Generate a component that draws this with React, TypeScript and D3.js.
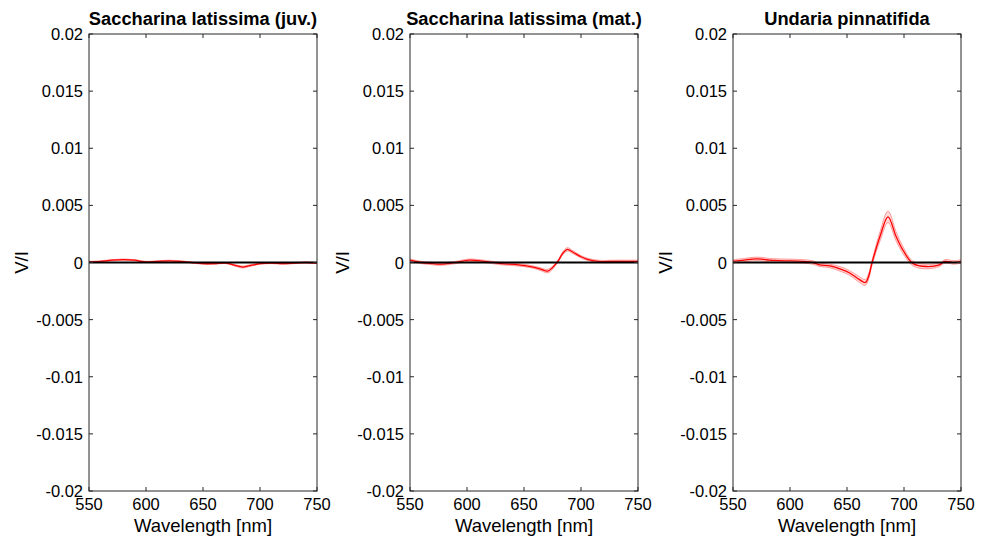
import React from "react";
import * as d3 from "d3";

const titles = ["Saccharina latissima (juv.)", "Saccharina latissima (mat.)", "Undaria pinnatifida"];
const xTicks = [550, 600, 650, 700, 750];
const yTicks = [0.02, 0.015, 0.01, 0.005, 0, -0.005, -0.01, -0.015, -0.02];
const yTickLabels = ["0.02", "0.015", "0.01", "0.005", "0", "-0.005", "-0.01", "-0.015", "-0.02"];

const juvNm = [550, 560, 570, 580, 590, 600, 610, 620, 630, 640, 650, 660, 670, 680, 685, 690, 700, 710, 720, 730, 740, 750];
const juvMean = [0.00005, 0.0001, 0.0002, 0.00025, 0.0002, 0.00005, 0.0001, 0.00015, 0.0001, 0.0, -0.0001, -0.0001, -0.00005, -0.0003, -0.0004, -0.0003, -0.0001, -0.00005, -0.0001, -0.00005, 0, -0.00005];
const juvErr = [0.00005, 0.00005, 0.00005, 0.00005, 0.00005, 0.00005, 0.00005, 0.00005, 0.00005, 0.00005, 0.00005, 0.00005, 0.00005, 0.00007, 0.00008, 0.00007, 0.00005, 0.00005, 0.00005, 0.00005, 0.00005, 0.00005];

const matNm = [550, 560, 570, 576, 590, 602, 615, 630, 645, 658, 665, 671, 679, 684, 688, 693, 700, 705, 715, 730, 740, 750];
const matMean = [0.0002, 0.0, -0.0001, -0.00015, 0.0, 0.0002, 0.0001, -0.0001, -0.0002, -0.0004, -0.0006, -0.00075, 0.0, 0.0008, 0.00115, 0.0009, 0.0005, 0.0003, 0.0001, 0.0001, 0.0001, 0.0001];
const matErr = [0.0001, 0.0001, 0.0001, 0.0001, 0.0001, 0.0001, 0.0001, 0.0001, 0.0001, 0.0001, 0.00012, 0.00015, 0.0001, 0.00012, 0.00015, 0.00012, 0.0001, 0.0001, 0.0001, 0.0001, 0.0001, 0.0001];

const undNm = [550, 560, 567, 575, 582, 595, 611, 620, 626, 635, 645, 652, 661, 666, 669, 672, 679, 686, 693, 699, 708, 720, 731, 736, 744, 750];
const undMean = [0.0001, 0.0002, 0.0003, 0.0003, 0.0002, 0.00015, 0.0001, 0.0, -0.0002, -0.0003, -0.0006, -0.0009, -0.0015, -0.00175, -0.0012, 0.0, 0.0023, 0.004, 0.0023, 0.0011, -0.0001, -0.00035, -0.0002, 0.0001, 0.0, 0.0001];
const undErr = [0.00015, 0.00015, 0.00015, 0.00015, 0.00015, 0.00015, 0.00015, 0.00015, 0.00015, 0.00015, 0.0002, 0.0002, 0.00025, 0.00025, 0.00025, 0.0002, 0.0004, 0.0005, 0.0004, 0.0003, 0.0002, 0.0002, 0.00015, 0.00015, 0.00015, 0.00015];

const series = [
  { nm: juvNm, mean: juvMean, err: juvErr },
  { nm: matNm, mean: matMean, err: matErr },
  { nm: undNm, mean: undMean, err: undErr },
];

const panelLefts = [89, 410, 733];
const panelW = 228;
const top = 34;
const bottom = 491;
const font = "Arial, 'Liberation Sans', Helvetica, sans-serif";
const axisColor = "#262626";

function Panel({ idx }: { idx: number }) {
  const left = panelLefts[idx];
  const x = d3.scaleLinear().domain([550, 750]).range([left, left + panelW]);
  const y = d3.scaleLinear().domain([-0.02, 0.02]).range([bottom, top]);
  const s = series[idx];
  const pts = s.nm.map((n, i) => ({ n, m: s.mean[i], e: s.err[i] }));
  const curve = d3.curveCatmullRom.alpha(0.5);
  const mean = d3.line<any>().x(d => x(d.n)).y(d => y(d.m)).curve(curve)(pts) || "";
  const up = d3.line<any>().x(d => x(d.n)).y(d => y(d.m + d.e)).curve(curve)(pts) || "";
  const lo = d3.line<any>().x(d => x(d.n)).y(d => y(d.m - d.e)).curve(curve)(pts) || "";
  const area = d3.area<any>().x(d => x(d.n)).y0(d => y(d.m - d.e)).y1(d => y(d.m + d.e)).curve(curve)(pts) || "";
  const tl = 4;
  return (
    <g>
      <path d={area} fill="#ffd9d9" stroke="none" />
      <path d={up} fill="none" stroke="#ff9a9a" strokeWidth={1} />
      <path d={lo} fill="none" stroke="#ff9a9a" strokeWidth={1} />
      <path d={mean} fill="none" stroke="#ff0000" strokeWidth={1.3} />
      <line x1={x(550)} x2={x(750)} y1={y(0)} y2={y(0)} stroke="#000" strokeWidth={2} />
      <rect x={left} y={top} width={panelW} height={bottom - top} fill="none" stroke={axisColor} strokeWidth={1} />
      {xTicks.map(t => (
        <g key={"x" + t}>
          <line x1={x(t)} x2={x(t)} y1={bottom} y2={bottom - tl} stroke={axisColor} />
          <line x1={x(t)} x2={x(t)} y1={top} y2={top + tl} stroke={axisColor} />
          <text x={x(t)} y={bottom + 19} textAnchor="middle" fontSize={16.5} fontFamily={font} fill="#000">{t}</text>
        </g>
      ))}
      {yTicks.map((t, i) => (
        <g key={"y" + i}>
          <line x1={left} x2={left + tl} y1={y(t)} y2={y(t)} stroke={axisColor} />
          <line x1={left + panelW} x2={left + panelW - tl} y1={y(t)} y2={y(t)} stroke={axisColor} />
          <text x={left - 6} y={y(t) + 6} textAnchor="end" fontSize={16.5} fontFamily={font} fill="#000">{yTickLabels[i]}</text>
        </g>
      ))}
      <text x={left + panelW / 2} y={25} textAnchor="middle" fontSize={18.3} fontWeight="bold" fontFamily={font} fill="#000">{titles[idx]}</text>
      <text x={left + panelW / 2} y={532} textAnchor="middle" fontSize={18.5} fontFamily={font} fill="#000">Wavelength [nm]</text>
      <text transform={`translate(${left - 61},${y(0)}) rotate(-90)`} textAnchor="middle" fontSize={18.5} fontFamily={font} fill="#000">V/I</text>
    </g>
  );
}

export default function App() {
  return (
    <svg width={987} height={542} style={{ position: "absolute", left: 0, top: 0, background: "#fff" }}>
      <rect width={987} height={542} fill="#fff" />
      {[0, 1, 2].map(i => <Panel key={i} idx={i} />)}
    </svg>
  );
}
